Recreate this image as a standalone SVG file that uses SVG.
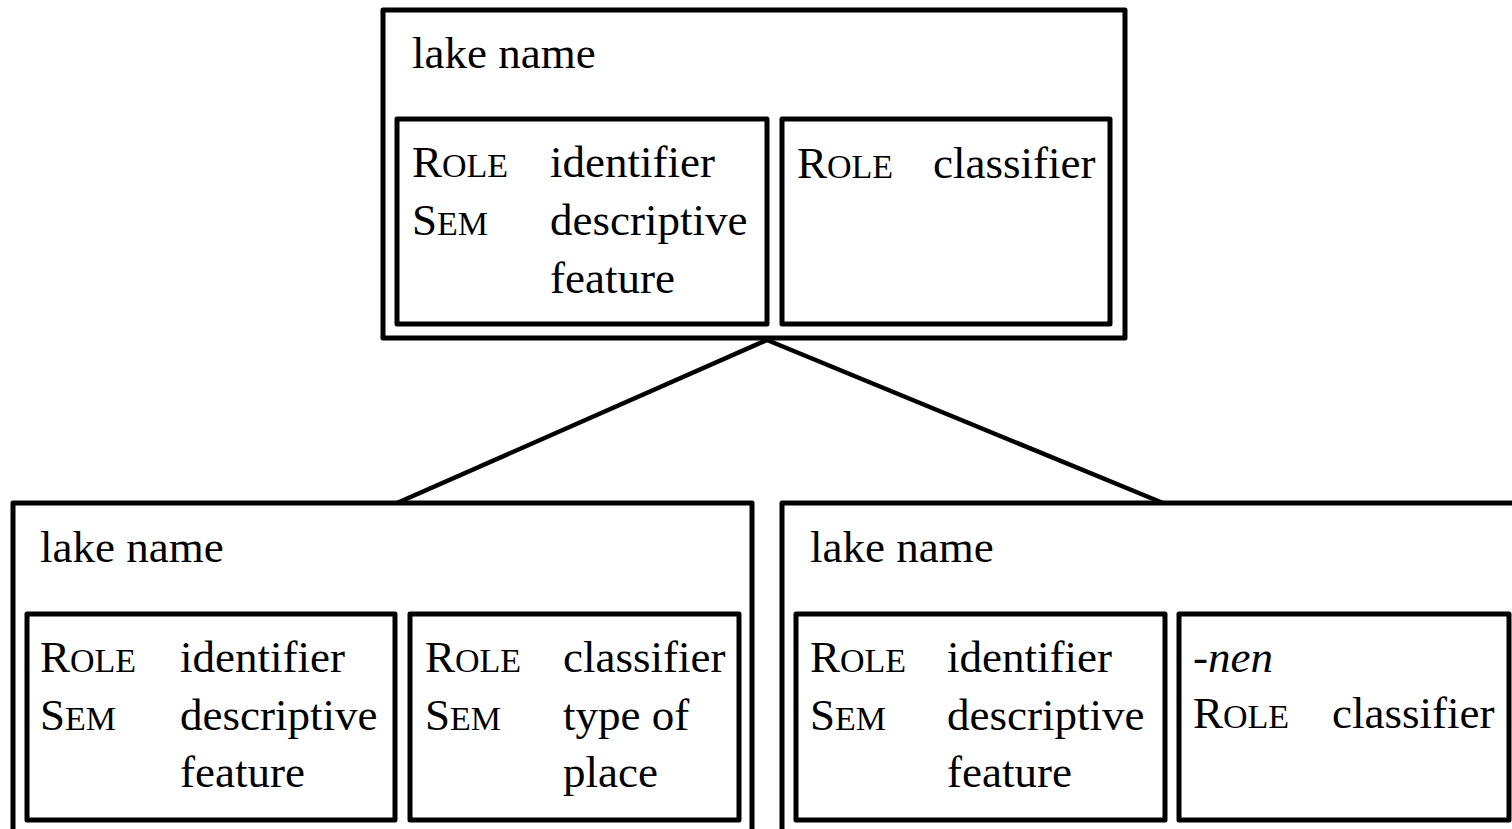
<svg xmlns="http://www.w3.org/2000/svg" width="1512" height="829" viewBox="0 0 1512 829">
<style>
.box{fill:none;stroke:#000;stroke-width:5;stroke-linejoin:round}
.edge{fill:none;stroke:#000;stroke-width:4.5}
text{font-family:"Liberation Serif","Times New Roman",serif;font-size:45px;fill:#000}
.sc{font-size:34px}
.it{font-style:italic}
</style>
<rect width="1512" height="829" fill="#fff"/>
<g id="connectors">
<line class="edge" x1="767" y1="340" x2="397" y2="503"/>
<line class="edge" x1="767" y1="340" x2="1163" y2="503"/>
</g>
<g id="top">
<rect class="box" x="383" y="10" width="742" height="328"/>
<text x="412" y="68">lake name</text>
<g id="top-identifier">
<rect class="box" x="397" y="119" width="370" height="205"/>
<text x="412" y="177">R<tspan class="sc">OLE</tspan></text>
<text x="550" y="177">identifier</text>
<text x="412" y="235">S<tspan class="sc">EM</tspan></text>
<text x="550" y="235">descriptive</text>
<text x="550" y="293">feature</text>
</g>
<g id="top-classifier">
<rect class="box" x="782" y="119" width="328" height="205"/>
<text x="797" y="178">R<tspan class="sc">OLE</tspan></text>
<text x="933" y="178">classifier</text>
</g>
</g>
<g id="left">
<rect class="box" x="13" y="503" width="739" height="360"/>
<text x="40" y="562">lake name</text>
<g id="left-identifier">
<rect class="box" x="27" y="614" width="368" height="206"/>
<text x="40" y="672">R<tspan class="sc">OLE</tspan></text>
<text x="180" y="672">identifier</text>
<text x="40" y="730">S<tspan class="sc">EM</tspan></text>
<text x="180" y="730">descriptive</text>
<text x="180" y="787">feature</text>
</g>
<g id="left-classifier">
<rect class="box" x="410" y="614" width="329" height="206"/>
<text x="425" y="672">R<tspan class="sc">OLE</tspan></text>
<text x="563" y="672">classifier</text>
<text x="425" y="730">S<tspan class="sc">EM</tspan></text>
<text x="563" y="730">type of</text>
<text x="563" y="787">place</text>
</g>
</g>
<g id="right">
<rect class="box" x="782" y="503" width="760" height="360"/>
<text x="810" y="562">lake name</text>
<g id="right-identifier">
<rect class="box" x="796" y="614" width="369" height="206"/>
<text x="810" y="672">R<tspan class="sc">OLE</tspan></text>
<text x="947" y="672">identifier</text>
<text x="810" y="730">S<tspan class="sc">EM</tspan></text>
<text x="947" y="730">descriptive</text>
<text x="947" y="787">feature</text>
</g>
<g id="right-classifier">
<rect class="box" x="1179" y="614" width="330" height="206"/>
<text class="it" x="1193" y="672">-nen</text>
<text x="1193" y="728">R<tspan class="sc">OLE</tspan></text>
<text x="1332" y="728">classifier</text>
</g>
</g>
</svg>
